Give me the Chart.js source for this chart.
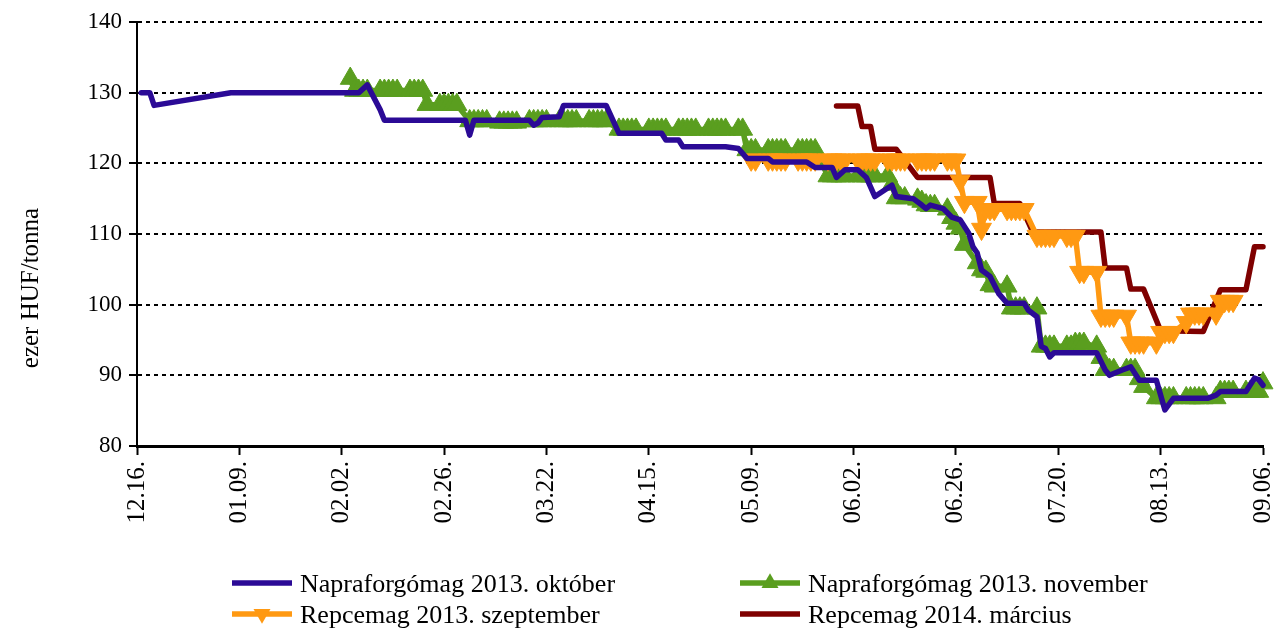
<!DOCTYPE html>
<html><head><meta charset="utf-8">
<script src="https://cdn.jsdelivr.net/npm/chart.js@4.4.1/dist/chart.umd.min.js"></script>
<style>html,body{margin:0;padding:0;background:#fff;}canvas{display:block}</style>
</head><body>
<canvas id="c" width="1276" height="629"></canvas>
<script>
// x = days since 2012-12-16
const tickLabels = ['12.16.','01.09.','02.02.','02.26.','03.22.','04.15.','05.09.','06.02.','06.26.','07.20.','08.13.','09.06.'];
const seriesNames = ['Napraforgómag 2013. október','Napraforgómag 2013. november','Repcemag 2013. szeptember','Repcemag 2014. március'];
const yTitle = 'ezer HUF/tonna';

const octDays = [1,3,4,22,52,54,57,58,77,78,79,92,93,94,95,99,100,110,113,123,124,127,128,138,141,143,148,149,157,159,163,164,166,169,171,173,177,178,182,184,185,186,189,191,193,195,196,197,198,200,202,204,208,209,211,212,213,214,215,225,227,228,231,233,235,239,241,243,251,253,254,260,262,263,264];
const octValues = [130,130,128.2,130,130,131.1,127.6,126.1,126.1,124.0,126.1,126.1,125.4,125.7,126.5,126.6,128.2,128.2,124.25,124.25,123.3,123.3,122.35,122.35,122.1,120.7,120.7,120.2,120.2,119.4,119.4,118.0,119.1,119.1,118.0,115.3,116.9,115.3,115.0,114.1,113.6,114.1,113.6,112.4,112.0,110.1,108.2,107.3,104.9,104.0,101.6,100.2,100.2,99.2,98.3,94.1,93.8,92.6,93.2,93.2,90.75,90.0,90.75,91.2,89.3,89.3,85.1,86.75,86.75,87.2,87.7,87.7,89.6,89.4,88.6];

const novDays = [50,51,52,53,54,57,58,59,60,61,64,65,66,67,68,71,72,73,74,75,78,79,80,81,82,85,86,87,88,89,92,93,94,95,96,99,100,101,102,103,106,107,108,109,110,113,114,115,116,117,120,121,122,123,124,127,128,129,130,131,134,135,136,137,138,141,142,143,144,145,148,149,150,151,152,155,156,157,158,159,162,163,164,165,166,169,170,171,172,173,176,177,178,179,180,183,184,185,186,187,190,191,192,193,194,197,198,199,200,201,204,205,206,207,208,211,212,213,214,215,218,219,220,221,222,225,226,227,228,229,232,233,234,235,236,239,240,241,242,243,246,247,248,249,250,253,254,255,256,257,260,261,262,263,264];
const novValues = [132.0,130.3,130.3,130.3,130.3, 130.3,130.3,130.3,130.3,130.3, 130.3,130.3,130.3,130.3,128.3, 128.3,128.3,128.3,128.3,128.3,
 126.0,126.0,126.0,126.0,126.0, 125.8,125.8,125.8,125.8,125.8, 126.0,126.0,126.0,126.0,126.0, 126.0,126.0,126.0,126.0,126.0, 126.0,126.0,126.0,126.0,126.0,
 124.8,124.8,124.8,124.8,124.8, 124.8,124.8,124.8,124.8,124.8, 124.8,124.8,124.8,124.8,124.8, 124.8,124.8,124.8,124.8,124.8, 124.8,124.8,121.9,121.9,121.9,
 121.9,121.9,121.9,121.9,121.9, 121.9,121.9,121.9,121.9,121.9, 118.2,118.2,118.2,118.2,118.2, 118.2,118.2,118.2,118.2,118.2, 118.2,117.0,115.1,115.1,115.1,
 114.9,114.6,114.1,114.0,114.0, 113.5,112.3,111.5,110.8,108.5, 105.9,104.9,104.7,102.8,102.6, 102.6,99.5,99.5,99.5,99.5, 99.5,94.1,94.1,94.1,94.1,
 94.1,94.1,94.5,94.5,94.5, 94.1,92.5,90.8,90.8,90.8, 90.8,90.8,90.8,89.5,88.4, 86.8,86.8,86.8,86.8,86.8, 86.8,86.8,86.8,86.8,86.8,
 86.8,87.7,87.7,87.7,87.7, 87.7,87.7,87.7,87.7,88.9];

const sepDays = [144,145,148,149,150,151,152,155,156,157,158,159,162,163,164,165,166,169,170,171,172,173,176,177,178,179,180,183,184,185,186,187,190,191,192,193,194,197,198,199,200,201,204,205,206,207,208,211,212,213,214,215,218,219,220,221,222,225,226,227,228,229,232,233,234,235,236,239,240,241,242,243,246,247,248,249,250,253,254,255,256,257];
const sepValues = [120.5,120.5, 120.5,120.5,120.5,120.5,120.5, 120.5,120.5,120.5,120.5,120.5, 120.5,120.5,120.5,120.5,120.5, 120.5,120.5,120.5,120.5,120.5, 120.5,120.5,120.5,120.5,120.5, 120.5,120.5,120.5,120.5,120.5,
 120.5,120.5,120.5,117.5,114.5, 114.5,110.7,113.5,113.5,113.5, 113.5,113.5,113.5,113.5,113.5, 109.7,109.7,109.7,109.7,109.7, 109.7,109.7,109.7,104.6,104.6,
 104.6,98.4,98.4,98.4,98.4, 98.4,94.6,94.6,94.6,94.6, 94.6,96.1,96.1,96.1,96.1, 97.5,98.7,98.7,98.7,98.7, 98.7,100.5,100.5,100.5,100.5];

const marDays = [164,169,170,172,173,178,183,200,201,207,210,226,227,232,233,236,240,250,254,260,262,264];
const marValues = [128.1,128.1,125.2,125.2,122.0,122.0,118.0,118.0,114.3,114.3,110.3,110.3,105.2,105.2,102.2,102.2,96.3,96.2,102.1,102.1,108.2,108.2];

const colors = ['#2B0A96','#5A9E1F','#FF9912','#7F0000'];
const FONT = "'Liberation Serif','Times New Roman',serif";

function pts(d, v){ return d.map((x,i)=>({x:x, y:v[i]})); }

const legendPlugin = {
  id:'customLegend',
  afterDraw(chart){
    const ctx = chart.ctx;
    ctx.save();
    ctx.fillStyle = '#000';
    ctx.font = '25px ' + FONT;
    ctx.translate(31, 288);
    ctx.rotate(-Math.PI/2);
    ctx.textAlign = 'center';
    ctx.textBaseline = 'middle';
    ctx.fillText(yTitle, 0, 0);
    ctx.restore();

    const items = [
      {i:0, x:232, y:583, marker:null},
      {i:1, x:740, y:583, marker:'up'},
      {i:2, x:232, y:614, marker:'down'},
      {i:3, x:740, y:614, marker:null}
    ];
    ctx.save();
    items.forEach(it=>{
      ctx.strokeStyle = colors[it.i];
      ctx.fillStyle = colors[it.i];
      ctx.lineWidth = 5.5;
      ctx.beginPath(); ctx.moveTo(it.x, it.y); ctx.lineTo(it.x+60, it.y); ctx.stroke();
      if(it.marker){
        const cx = it.x+30, r = 9.8, s = it.marker==='up'?1:-1;
        ctx.beginPath();
        ctx.moveTo(cx, it.y - s*r);
        ctx.lineTo(cx + r*Math.sin(2*Math.PI/3), it.y + s*r/2);
        ctx.lineTo(cx - r*Math.sin(2*Math.PI/3), it.y + s*r/2);
        ctx.closePath(); ctx.fill();
      }
      ctx.fillStyle = '#000';
      ctx.font = '26px ' + FONT;
      ctx.textAlign = 'left';
      ctx.textBaseline = 'middle';
      ctx.fillText(seriesNames[it.i], it.x+68, it.y+2);
    });
    ctx.restore();
  }
};

new Chart(document.getElementById('c'), {
  type:'line',
  data:{ datasets:[
    {label:seriesNames[0], data:pts(octDays,octValues), borderColor:colors[0], backgroundColor:colors[0], borderWidth:5.5, pointRadius:0, order:0},
    {label:seriesNames[1], data:pts(novDays,novValues), borderColor:colors[1], backgroundColor:colors[1], borderWidth:5.5, pointStyle:'triangle', pointRadius:11.5, pointBorderWidth:1, pointBackgroundColor:colors[1], pointBorderColor:colors[1], order:2},
    {label:seriesNames[2], data:pts(sepDays,sepValues), borderColor:colors[2], backgroundColor:colors[2], borderWidth:5.5, pointStyle:'triangle', pointRotation:180, pointRadius:11.5, pointBorderWidth:1, pointBackgroundColor:colors[2], pointBorderColor:colors[2], order:1},
    {label:seriesNames[3], data:pts(marDays,marValues), borderColor:colors[3], backgroundColor:colors[3], borderWidth:5.5, pointRadius:0, order:3}
  ]},
  options:{
    responsive:false, animation:false, devicePixelRatio:1,
    clip:false,
    elements:{ line:{tension:0, borderJoinStyle:'round', borderCapStyle:'round'}, point:{hoverRadius:0} },
    layout:{ padding:{left:0, right:13, top:22, bottom:0} },
    plugins:{ legend:{display:false}, tooltip:{enabled:false} },
    scales:{
      x:{ type:'linear', min:0, max:264,
        afterFit(s){ s.height = 183; s.paddingLeft = 0; s.paddingRight = 0; },
        ticks:{ stepSize:24, autoSkip:false, maxRotation:90, minRotation:90, padding:6, color:'#000',
          font:{family:FONT, size:25},
          callback:(v)=>{ const k=Math.round(v/24); return (Math.abs(v-k*24)<1e-6)?tickLabels[k]:''; } },
        grid:{ drawOnChartArea:false, drawTicks:true, tickLength:9, tickColor:'#000', tickWidth:2, color:'#000' },
        border:{ display:true, color:'#000', width:3 }
      },
      y:{ min:80, max:140,
        afterFit(s){ s.width = 137; s.paddingTop = 0; s.paddingBottom = 0; },
        ticks:{ stepSize:10, padding:7, color:'#000', font:{family:FONT, size:23} },
        grid:{ color:'#000', lineWidth:2, tickLength:8, tickColor:'#000', tickWidth:2, tickBorderDash:[] },
        border:{ display:true, color:'#000', width:2, dash:[4,4] }
      }
    }
  },
  plugins:[legendPlugin]
});
</script>
</body></html>
